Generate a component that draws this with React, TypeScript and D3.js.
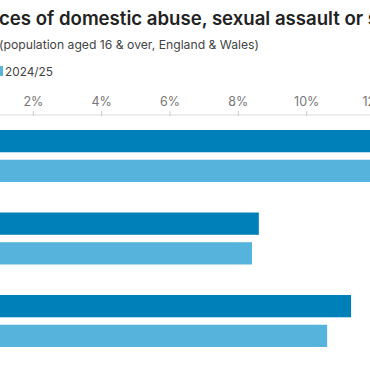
import * as d3 from "d3";

const groups = ["Any", "Domestic abuse", "Stalking"];
const series = ["2023/24", "2024/25"];
const values2324 = [13.6, 8.6, 11.3];
const values2425 = [13.3, 8.4, 10.6];
const ticks = [2, 4, 6, 8, 10, 12];

const colors = ["#0080b9", "#56b4dc"];
const font = "Inter, 'Liberation Sans', Arial, sans-serif";

const width = 370;
const height = 370;

export default function App() {
  const x = d3.scaleLinear([0, 12], [-35, 375]);
  const y = d3.scaleBand(groups, [130, 347]).paddingInner(0.37).paddingOuter(0);
  const inner = d3.scaleBand(series, [0, y.bandwidth()]).paddingInner(0.25);
  const rows = groups.map((g, i) => ({
    group: g,
    vals: [values2324[i], values2425[i]],
  }));

  return (
    <svg
      width={width}
      height={height}
      style={{ position: "absolute", left: 0, top: 0, background: "#fff" }}
      fontFamily={font}
    >
      <text x={-1} y={25} fontSize={18.6} fontWeight={600} fill="#222">
        ces of domestic abuse, sexual assault or stalking
      </text>
      <text x={-1} y={49} fontSize={12.2} fill="#444">
        (population aged 16 &amp; over, England &amp; Wales)
      </text>
      <rect x={-10} y={66} width={13} height={10} fill={colors[1]} />
      <text x={5} y={75.5} fontSize={11.8} fill="#444">
        {series[1]}
      </text>

      <g>
        <line x1={0} x2={width} y1={115} y2={115} stroke="#ddd" />
        {ticks.map((t) => (
          <g key={t} transform={`translate(${x(t)},0)`}>
            <line y1={111} y2={116} stroke="#ccc" />
            <text y={106} textAnchor="middle" fontSize={12.5} fill="#777">
              {t}%
            </text>
          </g>
        ))}
      </g>

      {rows.map((r) => (
        <g key={r.group} transform={`translate(0,${y(r.group)})`}>
          {r.vals.map((v, j) => (
            <rect
              key={series[j]}
              x={x(0)}
              y={inner(series[j])}
              width={x(v) - x(0)}
              height={inner.bandwidth()}
              fill={colors[j]}
            />
          ))}
        </g>
      ))}
    </svg>
  );
}
